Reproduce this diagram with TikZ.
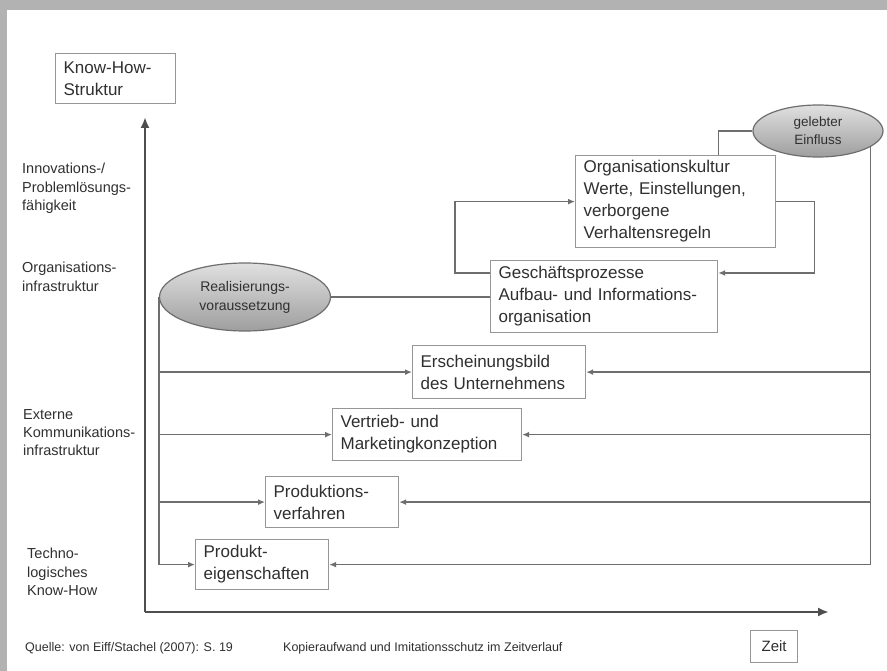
\documentclass[tikz,border=0pt]{standalone}
\usepackage{fontspec}
\setmainfont{Liberation Sans}
\usepackage{tikz}
\usetikzlibrary{arrows.meta, positioning, shapes.geometric, calc}
\definecolor{boxline}{RGB}{150,150,150}
\definecolor{conline}{RGB}{110,110,110}
\definecolor{axisline}{RGB}{78,78,78}
\definecolor{textgray}{RGB}{48,48,48}
\definecolor{framegray}{RGB}{178,178,178}
\definecolor{ovaltop}{RGB}{224,224,224}
\definecolor{ovalbottom}{RGB}{158,158,158}

\begin{document}
\begin{tikzpicture}[
    x=1pt, y=-1pt,
    box/.style={rectangle, draw=boxline, line width=1.2pt, fill=white, text=textgray, align=left, anchor=north west, inner xsep=8pt, inner ysep=0pt, font=\fontsize{17}{22}\selectfont},
    oval/.style={ellipse, draw=conline, line width=1.2pt, top color=ovaltop, bottom color=ovalbottom, text=textgray, align=center, inner sep=0pt},
    sidetext/.style={anchor=north west, inner sep=0pt, align=left, text=textgray, font=\fontsize{14.5}{18.3}\selectfont},
    foottext/.style={anchor=north west, inner sep=0pt, text=textgray, font=\fontsize{12.5}{15}\selectfont},
    arrow/.style={-{Latex[length=7pt, width=6pt]}, conline, line width=1.4pt},
    conn/.style={conline, line width=1.4pt},
    axis/.style={-{Latex[length=11pt, width=9pt]}, axisline, line width=2.6pt}
]
\useasboundingbox (0,0) rectangle (887,671);
\fill[framegray] (0,0) rectangle (887,671);
\fill[white] (7,10) rectangle (887,671);

\node[box, text width=104pt, minimum height=50pt] (know) at (55,53) {Know-How-\\Struktur};
\node[box, text width=184pt, minimum height=92pt] (okultur) at (575,155) {Organisationskultur\\Werte, Einstellungen,\\verborgene\\Verhaltensregeln};
\node[box, text width=211pt, minimum height=72pt] (gprozess) at (490,260) {Geschäftsprozesse\\Aufbau- und Informations-\\organisation};
\node[box, text width=157pt, minimum height=53pt] (erschein) at (412,345) {Erscheinungsbild\\des Unternehmens};
\node[box, text width=173pt, minimum height=52pt] (vertrieb) at (332,408) {Vertrieb- und\\Marketingkonzeption};
\node[box, text width=117pt, minimum height=51pt] (prodverf) at (265,476) {Produktions-\\verfahren};
\node[box, text width=117pt, minimum height=50pt] (prodeig) at (195,539) {Produkt-\\eigenschaften};
\node[box, align=center, inner xsep=0pt, text width=47pt, minimum height=32pt, font=\fontsize{15}{18}\selectfont] (zeit) at (750,630) {Zeit};

\node[oval, minimum width=171pt, minimum height=68pt, font=\fontsize{14}{19}\selectfont] (realis) at (245,297) {Realisierungs-\\voraussetzung};
\node[oval, minimum width=130pt, minimum height=52pt, font=\fontsize{13.5}{18}\selectfont] (gelebt) at (818,131) {gelebter\\Einfluss};

\node[sidetext] (innov) at (22,163) {Innovations-/\\Problemlösungs-\\fähigkeit};
\node[sidetext] (orginfra) at (22,262) {Organisations-\\infrastruktur};
\node[sidetext] (extern) at (23,409) {Externe\\Kommunikations-\\infrastruktur};
\node[sidetext] (techno) at (27,548) {Techno-\\logisches\\Know-How};

\node[foottext] (quelle) at (25,642) {Quelle: von Eiff/Stachel (2007): S. 19};
\node[foottext] (kopier) at (283,642) {Kopieraufwand und Imitationsschutz im Zeitverlauf};

\coordinate (origin) at (145,612);
\coordinate (ytip) at (145,117);
\coordinate (xtip) at (829,612);
\draw[axis] (origin) -- (ytip);
\draw[axis] (origin) -- (xtip);

\draw[conn] (realis.east) -- (realis.east -| gprozess.west);
\draw[arrow] (realis.west) |- (prodeig.west);
\draw[arrow] (realis.west |- erschein.west) -- (erschein.west);
\draw[arrow] (realis.west |- vertrieb.west) -- (vertrieb.west);
\draw[arrow] (realis.west |- prodverf.west) -- (prodverf.west);

\coordinate (rtop) at (gelebt.-17);
\draw[arrow] (rtop) |- (prodeig.east);
\draw[arrow] (rtop |- erschein.east) -- (erschein.east);
\draw[arrow] (rtop |- vertrieb.east) -- (vertrieb.east);
\draw[arrow] (rtop |- prodverf.east) -- (prodverf.east);

\draw[conn] (gelebt.west) -| (gprozess.east |- okultur.north);
\coordinate (gpl) at ($(gprozess.north west)+(0,13)$);
\coordinate (gpr) at ($(gprozess.north east)+(0,13)$);
\draw[arrow] (gpl) -- ++(-35,0) |- (okultur.west);
\draw[arrow] (okultur.east) -- ++(38,0) |- (gpr);
\end{tikzpicture}
\end{document}
